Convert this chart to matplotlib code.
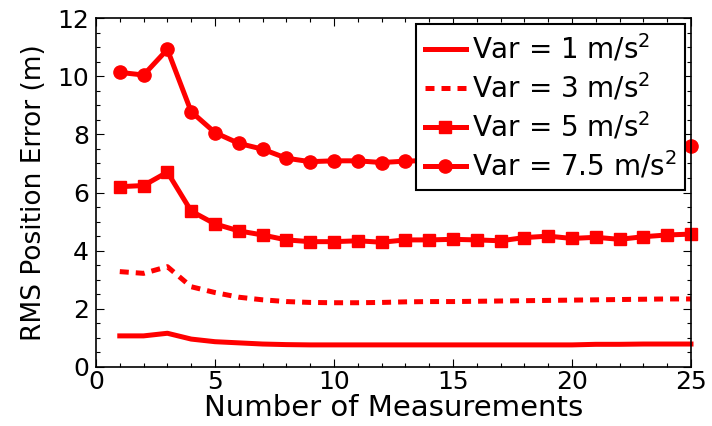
import matplotlib
matplotlib.use("Agg")
import matplotlib.pyplot as plt
from matplotlib.ticker import MultipleLocator

plt.rcParams['font.family'] = ['DejaVu Sans']
plt.rcParams['mathtext.fontset'] = 'dejavusans'

measurements = list(range(1, 26))
var1 = [1.07, 1.07, 1.16, 0.96, 0.87, 0.83, 0.79, 0.77, 0.76, 0.76, 0.76, 0.76, 0.76,
        0.76, 0.76, 0.76, 0.76, 0.76, 0.76, 0.76, 0.78, 0.78, 0.79, 0.79, 0.79]
var3 = [3.28, 3.22, 3.45, 2.76, 2.56, 2.40, 2.31, 2.25, 2.22, 2.21, 2.21, 2.22, 2.24,
        2.25, 2.25, 2.26, 2.27, 2.28, 2.29, 2.30, 2.31, 2.32, 2.33, 2.34, 2.34]
var5 = [6.20, 6.24, 6.70, 5.36, 4.92, 4.68, 4.54, 4.37, 4.31, 4.31, 4.34, 4.29, 4.37,
        4.37, 4.39, 4.37, 4.34, 4.45, 4.50, 4.42, 4.46, 4.39, 4.48, 4.54, 4.57]
var75 = [10.13, 10.04, 10.92, 8.78, 8.06, 7.69, 7.49, 7.18, 7.06, 7.09, 7.09, 7.03, 7.08,
         7.10, 7.12, 7.15, 7.18, 7.20, 7.25, 7.30, 7.33, 7.38, 7.44, 7.50, 7.60]
labels = ['Var = 1 m/s$^2$', 'Var = 3 m/s$^2$', 'Var = 5 m/s$^2$', 'Var = 7.5 m/s$^2$']

fig = plt.figure(figsize=(7.12, 4.26), dpi=100)
ax = fig.add_axes([0.1348, 0.1385, 0.8357, 0.8192])

lw = 3.6
red = '#ff0000'
ax.plot(measurements, var1, color=red, lw=lw, label=labels[0], clip_on=False)
ax.plot(measurements, var3, color=red, lw=lw, dashes=(1.8, 1.4), label=labels[1], clip_on=False)
ax.plot(measurements, var5, color=red, lw=lw, marker='s', ms=8, label=labels[2], clip_on=False)
ax.plot(measurements, var75, color=red, lw=lw, marker='o', ms=9.5, label=labels[3], clip_on=False)

ax.set_xlim(0, 25)
ax.set_ylim(0, 12)
ax.xaxis.set_major_locator(MultipleLocator(5))
ax.xaxis.set_minor_locator(MultipleLocator(1))
ax.yaxis.set_major_locator(MultipleLocator(2))
ax.yaxis.set_minor_locator(MultipleLocator(0.5))
ax.tick_params(which='both', direction='in', top=True, right=True, labelsize=18, width=0.8)
ax.tick_params(which='major', length=6)
ax.tick_params(which='minor', length=3)
ax.tick_params(axis='x', which='major', pad=2)
ax.tick_params(axis='y', which='major', pad=5)
for s in ax.spines.values():
    s.set_linewidth(1.2)

ax.set_xlabel('Number of Measurements', fontsize=21, labelpad=0)
ax.set_ylabel('RMS Position Error (m)', fontsize=19, labelpad=7)

leg = ax.legend(loc='upper right', fontsize=20, fancybox=False, framealpha=1,
                edgecolor='black', handlelength=1.5, handletextpad=0.2,
                borderpad=0.3, labelspacing=0.26, borderaxespad=0.22)
leg.get_frame().set_linewidth(1.5)

fig.savefig('out.png', dpi=100)
